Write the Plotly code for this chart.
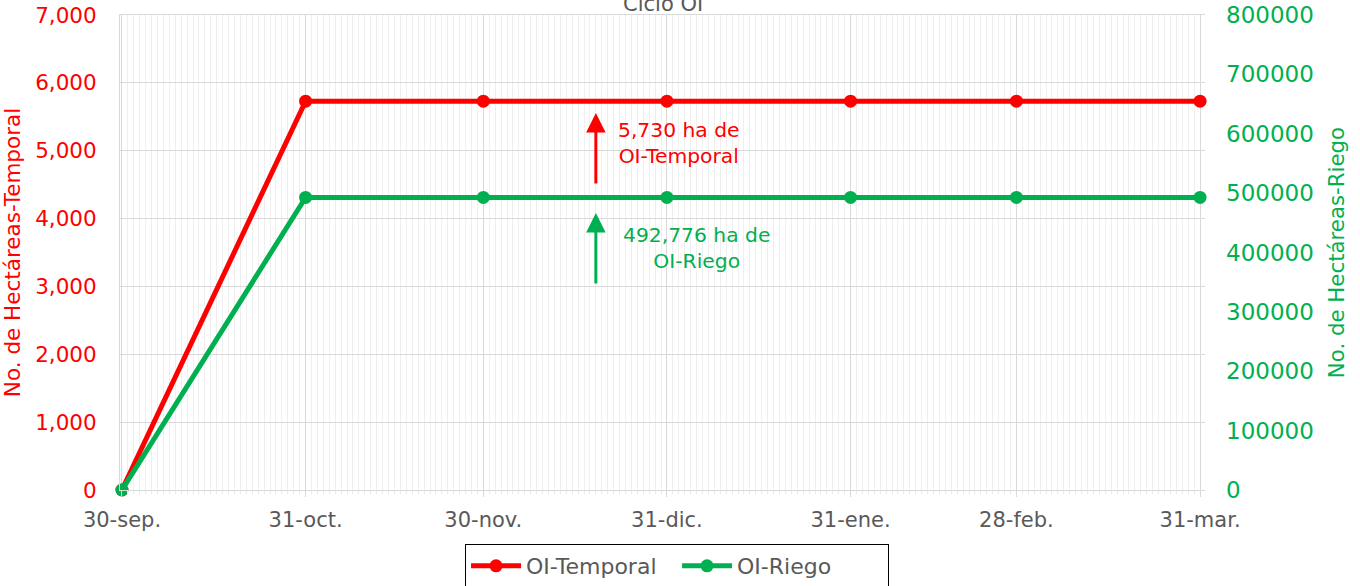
import plotly.graph_objects as go

dates = ["2024-09-30", "2024-10-31", "2024-11-30", "2024-12-31", "2025-01-31", "2025-02-28", "2025-03-31"]
tick_labels = ["30-sep.", "31-oct.", "30-nov.", "31-dic.", "31-ene.", "28-feb.", "31-mar."]
temporal = [0, 5730, 5730, 5730, 5730, 5730, 5730]
riego = [0, 492776, 492776, 492776, 492776, 492776, 492776]

RED = "#FF0000"
GREEN = "#00B050"
GRAY = "#595959"
FONT = "DejaVu Sans"

fig = go.Figure()
fig.add_trace(go.Scatter(x=dates, y=temporal, name="OI-Temporal", mode="lines+markers",
                         line=dict(color=RED, width=5), marker=dict(size=13, color=RED),
                         cliponaxis=False, yaxis="y"))
fig.add_trace(go.Scatter(x=dates, y=riego, name="OI-Riego", mode="lines+markers",
                         line=dict(color=GREEN, width=5), marker=dict(size=13, color=GREEN),
                         cliponaxis=False, yaxis="y2"))

fig.update_layout(
    width=1360, height=586,
    margin=dict(l=120, r=155, t=15, b=96, autoexpand=False),
    paper_bgcolor="white", plot_bgcolor="white",
    font=dict(family=FONT, size=20, color=GRAY),
    showlegend=True,
    legend=dict(orientation="h", x=0.5134, xanchor="center", y=-0.1137, yanchor="top",
                bordercolor="black", borderwidth=1, font=dict(size=22, color=GRAY),
                itemwidth=50, entrywidth=146, entrywidthmode="pixels", tracegroupgap=0),
    xaxis=dict(
        type="date", automargin=False,
        range=["2024-09-29 16:00", "2025-03-31 20:00"],
        tickmode="array", tickvals=dates, ticktext=tick_labels,
        showgrid=True, gridcolor="#D9D9D9", gridwidth=1,
        ticks="outside", ticklen=6, tickcolor="#D9D9D9",
        tickfont=dict(size=21, color=GRAY),
        ticklabelstandoff=5,
        showline=True, linecolor="#D9D9D9", linewidth=1, mirror=True,
        zeroline=False,
        minor=dict(tickmode="linear", tick0="2024-09-30", dtick=86400000,
                   showgrid=True, gridcolor="#EFEFEF", gridwidth=1,
                   ticks="outside", ticklen=3, tickcolor="#EAEAEA"),
    ),
    yaxis=dict(
        range=[0, 7000], dtick=1000, tickformat=",d", automargin=False,
        showgrid=True, gridcolor="#D9D9D9", zeroline=False,
        tickfont=dict(size=21.5, color=RED),
        title=dict(text="No. de Hectáreas-Temporal", font=dict(size=21.5, color=RED), standoff=12),
        ticklabelstandoff=18,
        showline=True, linecolor="#D9D9D9",
    ),
    yaxis2=dict(
        range=[0, 800000], dtick=100000, tickformat="d", automargin=False,
        overlaying="y", side="right", showgrid=False, zeroline=False,
        tickfont=dict(size=23, color=GREEN),
        title=dict(text="No. de Hectáreas-Riego", font=dict(size=21.3, color=GREEN), standoff=16),
        ticklabelstandoff=20,
    ),
)

fig.add_annotation(text="Ciclo OI", xref="paper", yref="paper", x=0.5, y=1 + 11 / 475,
                   yanchor="middle", showarrow=False, font=dict(size=21, color=GRAY))

# arrows
fig.add_annotation(x="2024-12-19", y=5556, xref="x", yref="y", ax=0, ay=72, text="",
                   showarrow=True, arrowhead=2, arrowsize=1.3, arrowwidth=3, arrowcolor=RED)
fig.add_annotation(x="2024-12-19", y=4082, xref="x", yref="y", ax=0, ay=72, text="",
                   showarrow=True, arrowhead=2, arrowsize=1.3, arrowwidth=3, arrowcolor=GREEN)
fig.add_annotation(x="2025-01-02", y=5114, xref="x", yref="y", text="5,730 ha de<br>OI-Temporal",
                   showarrow=False, font=dict(size=20.3, color=RED))
fig.add_annotation(x="2025-01-05", y=3566, xref="x", yref="y", text="492,776 ha de<br>OI-Riego",
                   showarrow=False, font=dict(size=20.3, color=GREEN))

fig.write_html("out.html", config={"displayModeBar": False},
               post_script="document.body.style.margin='0';document.body.style.overflow='hidden';")
